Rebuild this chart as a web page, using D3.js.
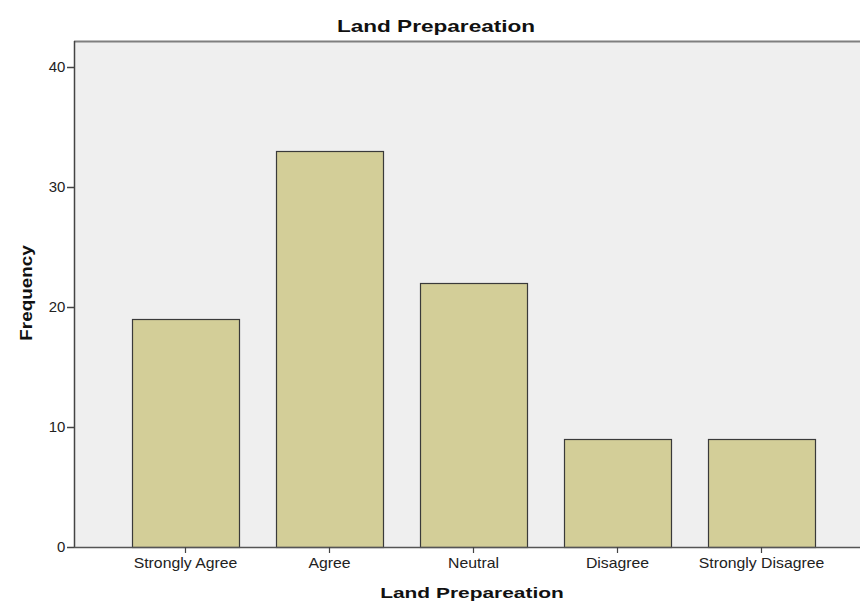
<!DOCTYPE html>
<html>
<head>
<meta charset="utf-8">
<script src="https://cdn.jsdelivr.net/npm/d3@7"></script>
<style>
  html, body { margin: 0; padding: 0; background: #fff; }
  svg { display: block; font-family: "Liberation Sans", Arial, sans-serif; }
</style>
</head>
<body>
<svg id="chart" width="860" height="605"></svg>
<script>
// Frequency of responses for land preparation
const categories = ["Strongly Agree", "Agree", "Neutral", "Disagree", "Strongly Disagree"];
const frequencies = [19, 33, 22, 9, 9];
const yTicks = [0, 10, 20, 30, 40];

const chartTitle = "Land Prepareation";
const xTitle = "Land Prepareation";
const yTitle = "Frequency";

const svg = d3.select("#chart");
const plot = { left: 74, top: 41, right: 860, bottom: 547 };

const x = d3.scaleBand()
  .domain(categories)
  .range([113.5, 833.5])
  .paddingInner(0.257)
  .paddingOuter(0.1285);

const y = d3.scaleLinear()
  .domain([0, 40])
  .range([plot.bottom, 67]);

// plot background
svg.append("rect")
  .attr("x", plot.left)
  .attr("y", plot.top)
  .attr("width", plot.right - plot.left)
  .attr("height", plot.bottom - plot.top)
  .attr("fill", "#efefef");

// top frame line
svg.append("line")
  .attr("x1", plot.left).attr("x2", plot.right)
  .attr("y1", plot.top + 0.5).attr("y2", plot.top + 0.5)
  .attr("stroke", "#7f7f7f").attr("stroke-width", 2);

// bars
svg.append("g")
  .selectAll("rect")
  .data(frequencies)
  .join("rect")
  .attr("x", (d, i) => Math.round(x(categories[i])) + 0.5)
  .attr("y", d => Math.round(y(d)) + 0.5)
  .attr("width", Math.round(x.bandwidth()))
  .attr("height", d => plot.bottom - Math.round(y(d)))
  .attr("fill", "#d3ce98")
  .attr("stroke", "#3a3a3a")
  .attr("stroke-width", 1.2);

// y axis
const yAxis = svg.append("g")
  .attr("transform", `translate(${plot.left},0)`)
  .call(d3.axisLeft(y).tickValues(yTicks).tickSize(7).tickPadding(0).tickSizeOuter(0));
yAxis.select(".domain")
  .attr("d", `M0.5,${plot.top}V${plot.bottom}`)
  .attr("stroke", "#444").attr("stroke-width", 1.5);
yAxis.selectAll(".tick line").attr("stroke", "#444").attr("stroke-width", 1.5);
yAxis.selectAll(".tick text")
  .attr("x", -8)
  .attr("font-size", 14).attr("fill", "#222")
  .attr("font-family", "'Liberation Sans', Arial, sans-serif")
  .attr("transform", "scale(1.07,1)");

// x axis
const xAxis = svg.append("g")
  .attr("transform", `translate(0,${plot.bottom})`)
  .call(d3.axisBottom(x).tickSize(6).tickPadding(5).tickSizeOuter(0));
xAxis.select(".domain")
  .attr("d", `M${plot.left},0.5H${plot.right}`)
  .attr("stroke", "#555").attr("stroke-width", 1.5);
xAxis.selectAll(".tick line").attr("stroke", "#444").attr("stroke-width", 1.2);
xAxis.selectAll(".tick text")
  .attr("font-size", 14).attr("fill", "#222")
  .attr("font-family", "'Liberation Sans', Arial, sans-serif")
  .attr("transform", "scale(1.13,1)");

// titles (wide bold face, stretched horizontally)
svg.append("text")
  .attr("transform", "translate(436,32) scale(1.37,1)")
  .attr("text-anchor", "middle")
  .attr("font-size", 16.5).attr("font-weight", "bold").attr("fill", "#111")
  .text(chartTitle);

svg.append("text")
  .attr("transform", "translate(472,598) scale(1.35,1)")
  .attr("text-anchor", "middle")
  .attr("font-size", 15.5).attr("font-weight", "bold").attr("fill", "#111")
  .text(xTitle);

svg.append("text")
  .attr("transform", "translate(32,293) rotate(-90) scale(1.18,1)")
  .attr("text-anchor", "middle")
  .attr("font-size", 16).attr("font-weight", "bold").attr("fill", "#111")
  .text(yTitle);
</script>
</body>
</html>
